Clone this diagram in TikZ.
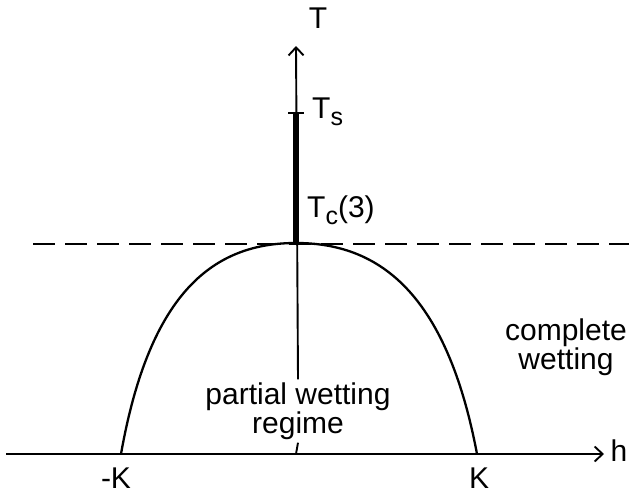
\documentclass[tikz,border=0pt]{standalone}
\usepackage{fontspec}
\setmainfont{Liberation Sans}
\usetikzlibrary{arrows.meta}
\newcommand{\subtxt}[1]{\raisebox{-7pt}{\fontsize{25}{25}\selectfont #1}}

\begin{document}
\begin{tikzpicture}[x=1pt, y=-1pt,
		axis/.style={line width=1.9pt, -{Straight Barb[length=8pt, width=15pt, line width=1.9pt]}},
		lbl/.style={font=\fontsize{30}{24}\selectfont, inner sep=1pt, align=center},
		curve/.style={line width=2.3pt},
		bar/.style={line width=6pt},
		level/.style={line width=2.2pt, dash pattern=on 22pt off 10pt}]
	\useasboundingbox (0,0) rectangle (629,493);
	% axes
	\coordinate (o) at (296,454);
	\coordinate (hl) at (6,454);
	\coordinate (hr) at (604,454);
	\coordinate (tt) at (296,46);
	\node[lbl] (T) at (318,18) {T};
	\node[lbl] (h) at (619,451) {h};
	\node[lbl, fill=white, inner sep=3pt] (pw) at (298,411) {partial wetting\\regime};
	\draw[axis] (hl) -- (hr);
	\draw[line width=1.9pt] (o) -- (pw.south);
	\draw[axis] (pw.north) -- (tt);
	% coexistence curve
	\coordinate (mK) at (121,454);
	\coordinate (pK) at (477,454);
	\coordinate (top) at (296,243);
	\draw[curve] (mK) .. controls (150,290) and (215,243) .. (top)
		.. controls (377,243) and (446,290) .. (pK);
	\node[font=\fontsize{30}{30}\selectfont, inner sep=0pt, anchor=base] (mKl) at (116,488) {-K};
	\node[font=\fontsize{30}{30}\selectfont, inner sep=0pt, anchor=base] (pKl) at (479,488) {K};
	% dashed level of T_c(3)
	\coordinate (dl) at (33,244);
	\coordinate (dr) at (629,244);
	\draw[level] (dl) -- (dr);
	% thick segment between T_c(3) and T_s
	\coordinate (ts) at (296,113);
	\coordinate (tsl) at (288,113);
	\coordinate (tsr) at (304,113);
	\draw[bar] (top) -- (ts);
	\draw[line width=2.2pt] (tsl) -- (tsr);
	\node[lbl, anchor=west] (tsn) at (311,112) {T\subtxt{s}};
	\node[lbl, anchor=west] (tcn) at (306,210) {T\subtxt{c}(3)};
	\node[lbl] (cw) at (566,347) {complete\\wetting};
\end{tikzpicture}
\end{document}
